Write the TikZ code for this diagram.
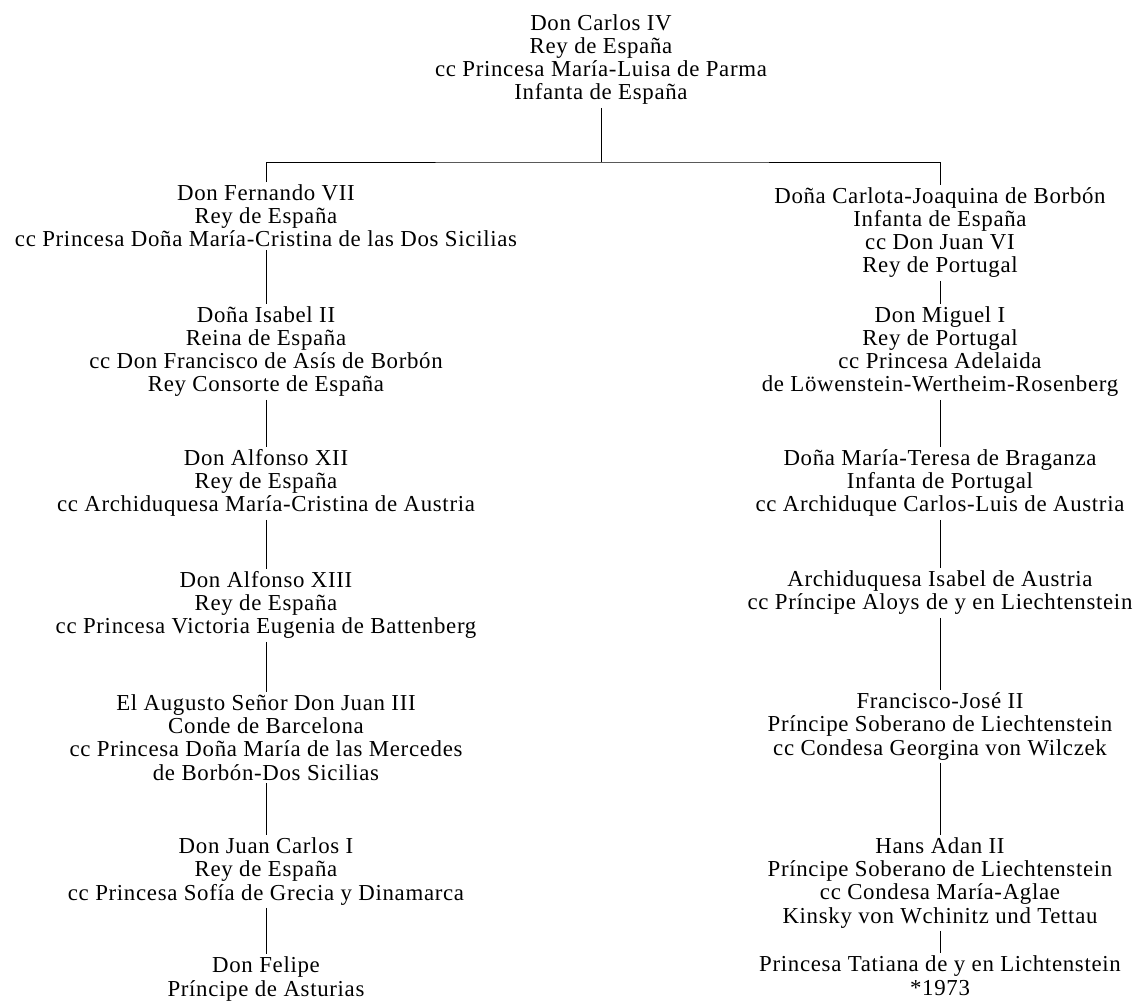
\documentclass[tikz,border=0pt]{standalone}
\usepackage{fontspec}
\setmainfont{Liberation Serif}[LetterSpace=3]
\usepackage{tikz}

\begin{document}
\begin{tikzpicture}[person/.style={align=center, anchor=base, inner sep=1.5pt, font=\fontsize{13}{13.1}\selectfont}]
                \useasboundingbox (0,0) rectangle (22.68,-20.04);
                % Casa de Borbon (anchor base = last line)
                \node[person] (carlos) at (12.02, -2.00) {Don Carlos IV\\Rey de España\\cc Princesa María-Luisa de Parma\\Infanta de España};
                \coordinate (bar) at (12.02, -3.24);

                % Linea de Espana
                \node[person] (fernando) at (5.32, -4.94) {Don Fernando VII\\Rey de España\\cc Princesa Doña María-Cristina de las Dos Sicilias};
                \node[person] (isabel) at (5.32, -7.84) {Doña Isabel II\\Reina de España\\cc Don Francisco de Asís de Borbón\\Rey Consorte de España};
                \node[person] (alfonsoxii) at (5.32, -10.24) {Don Alfonso XII\\Rey de España\\cc Archiduquesa María-Cristina de Austria};
                \node[person] (alfonsoxiii) at (5.32, -12.68) {Don Alfonso XIII\\Rey de España\\cc Princesa Victoria Eugenia de Battenberg};
                \node[person] (juan) at (5.32, -15.60) {El Augusto Señor Don Juan III\\Conde de Barcelona\\cc Princesa Doña María de las Mercedes\\de Borbón-Dos Sicilias};
                \node[person] (juancarlos) at (5.32, -18.00) {Don Juan Carlos I\\Rey de España\\cc Princesa Sofía de Grecia y Dinamarca};
                \node[person] (felipe) at (5.32, -19.92) {Don Felipe\\Príncipe de Asturias};

                % Linea de Portugal y Liechtenstein
                \node[person] (carlota) at (18.80, -5.46) {Doña Carlota-Joaquina de Borbón\\Infanta de España\\cc Don Juan VI\\Rey de Portugal};
                \node[person] (miguel) at (18.80, -7.84) {Don Miguel I\\Rey de Portugal\\cc Princesa Adelaida\\de Löwenstein-Wertheim-Rosenberg};
                \node[person] (mariateresa) at (18.80, -10.24) {Doña María-Teresa de Braganza\\Infanta de Portugal\\cc Archiduque Carlos-Luis de Austria};
                \node[person] (isabelaustria) at (18.80, -12.20) {Archiduquesa Isabel de Austria\\cc Príncipe Aloys de y en Liechtenstein};
                \node[person] (franciscojose) at (18.80, -15.10) {Francisco-José II\\Príncipe Soberano de Liechtenstein\\cc Condesa Georgina von Wilczek};
                \node[person] (hansadan) at (18.80, -18.46) {Hans Adan II\\Príncipe Soberano de Liechtenstein\\cc Condesa María-Aglae\\Kinsky von Wchinitz und Tettau};
                \node[person] (tatiana) at (18.80, -19.90) {Princesa Tatiana de y en Lichtenstein\\*1973};

                \draw (carlos.south) -- (bar);
                \draw (fernando.north) |- (bar) -| (carlota.north);

                \draw (fernando) -- (isabel);
                \draw (isabel) -- (alfonsoxii);
                \draw (alfonsoxii) -- (alfonsoxiii);
                \draw (alfonsoxiii) -- (juan);
                \draw (juan) -- (juancarlos);
                \draw (juancarlos) -- (felipe);

                \draw (carlota) -- (miguel);
                \draw (miguel) -- (mariateresa);
                \draw (mariateresa) -- (isabelaustria);
                \draw (isabelaustria) -- (franciscojose);
                \draw (franciscojose) -- (hansadan);
                \draw (hansadan) -- (tatiana);
            \end{tikzpicture}
\end{document}
